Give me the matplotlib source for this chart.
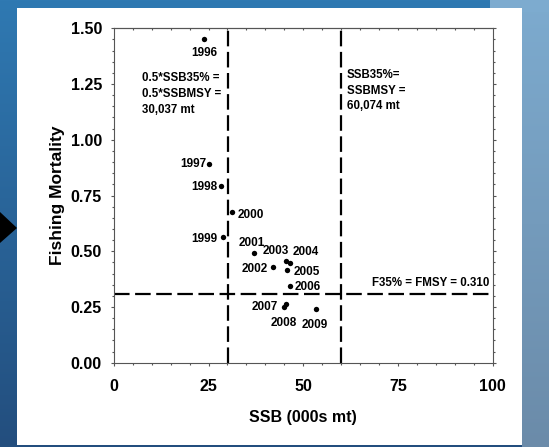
import numpy as np
import matplotlib
matplotlib.use("Agg")
import matplotlib.pyplot as plt
from matplotlib.patches import Rectangle, Polygon

plt.rcParams['font.family'] = ['Liberation Sans', 'DejaVu Sans']
plt.rcParams['font.weight'] = 'bold'

# data
years = [1996, 1997, 1998, 1999, 2000, 2001, 2002, 2003, 2004, 2005, 2006, 2007, 2008, 2009]
ssb = [23.9, 25.2, 28.4, 28.7, 31.3, 37.0, 42.0, 45.5, 46.6, 45.7, 46.4, 44.8, 45.5, 53.3]
fmort = [1.452, 0.890, 0.793, 0.564, 0.675, 0.494, 0.429, 0.456, 0.446, 0.416, 0.344, 0.249, 0.262, 0.242]

ssb_half = 30.037
ssb_msy = 60.074
f_msy = 0.310

x_ticks = [0, 25, 50, 75, 100]
y_ticks = [0.0, 0.25, 0.5, 0.75, 1.0, 1.25, 1.5]

# label placement for each year: (dx px, dy px, ha)
lab_pos = {
    1996: (0, -14, 'center'), 1997: (-3, 0, 'right'), 1998: (-4, -1, 'right'),
    1999: (-5, -2, 'right'), 2000: (5, -3, 'left'), 2001: (-2, 10, 'center'),
    2002: (-5, -2, 'right'), 2003: (-10, 10, 'center'), 2004: (15, 11, 'center'),
    2005: (7, -2, 'left'), 2006: (5, -1, 'left'), 2007: (-6, 0, 'right'),
    2008: (-2, -19, 'center'), 2009: (-1, -16, 'center'),
}

W, H = 549, 447
fig = plt.figure(figsize=(W / 100, H / 100), dpi=100)
fig.patch.set_facecolor('#2b6ea8')

# blue slide background
t = np.linspace(0, 1, H)[:, None]
top_c = np.array([0x2f, 0x79, 0xb2]) / 255
bot_c = np.array([0x23, 0x4e, 0x7e]) / 255
bg = np.ones((H, W, 3)) * (top_c * (1 - t) + bot_c * t).reshape(H, 1, 3)
lt_top = np.array([0x7d, 0xab, 0xcf]) / 255
lt_bot = np.array([0x6b, 0x8b, 0xa9]) / 255
light = (lt_top * (1 - t) + lt_bot * t).reshape(H, 1, 3)
bg[:, 522:, :] = light
bg[:12, 490:, :] = lt_top
fig.figimage(bg, xo=0, yo=0, zorder=-3, origin='upper')

fig.patches.append(Rectangle((17 / W, 1 - 445 / H), (522 - 17) / W, (445 - 8) / H,
                             transform=fig.transFigure, facecolor='white',
                             edgecolor='none', zorder=-2))
fig.patches.append(Polygon([(0, 1 - 212 / H), (17 / W, 1 - 228 / H), (0, 1 - 243 / H)],
                           closed=True, transform=fig.transFigure, facecolor='black',
                           edgecolor='none', zorder=-1))

ax = fig.add_axes([113.8 / W, 1 - 362.7 / H, (492.6 - 113.8) / W, (362.7 - 28.3) / H])
ax.set_facecolor('none')

ax.scatter(ssb, fmort, s=15, color='black', zorder=3, linewidths=0)
for yr, x, y in zip(years, ssb, fmort):
    dx, dy, ha = lab_pos[yr]
    ax.annotate(str(yr), (x, y), xytext=(dx, dy), textcoords='offset pixels',
                ha=ha, va='center', fontsize=8.5, fontweight='bold')

dash = dict(color='black', lw=1.6, linestyle=(0, (7, 2.5)))
ax.plot([ssb_half, ssb_half], [0, 1.5], **dash)
ax.plot([ssb_msy, ssb_msy], [0, 1.5], **dash)
ax.plot([0, 99], [f_msy, f_msy], **dash)

ax.text(7.35, 1.205, "0.5*SSB35% =\n0.5*SSBMSY =\n30,037 mt", ha='left', va='center',
        fontsize=8.3, fontweight='bold', linespacing=1.4)
ax.text(61.5, 1.22, "SSB35%=\nSSBMSY =\n60,074 mt", ha='left', va='center',
        fontsize=8.3, fontweight='bold', linespacing=1.4)
ax.text(99.1, 0.356, "F35% = FMSY = 0.310", ha='right', va='center',
        fontsize=8.3, fontweight='bold')

ax.set_xlim(0, 100)
ax.set_ylim(0, 1.5)
ax.set_xticks(x_ticks)
ax.set_xticklabels([str(v) for v in x_ticks])
ax.set_xticks(np.arange(0, 101, 5), minor=True)
ax.set_yticks(y_ticks)
ax.set_yticklabels(["%.2f" % v for v in y_ticks])
ax.set_yticks(np.arange(0, 1.501, 0.05), minor=True)

for sp in ax.spines.values():
    sp.set_color('#555555')
    sp.set_linewidth(0.8)
ax.tick_params(axis='both', which='both', direction='out', color='#555555', width=0.8,
               labelsize=11.5)
ax.tick_params(axis='y', which='both', right=True)
ax.tick_params(axis='y', which='major', length=2.5, pad=6)
ax.tick_params(axis='y', which='minor', length=1.5)
ax.tick_params(axis='x', which='major', length=2.5, pad=9.5)
ax.tick_params(axis='x', which='minor', length=1.7)

top = ax.secondary_xaxis('top')
top.set_xticks(np.arange(5, 100, 5))
top.tick_params(direction='in', length=1.7, color='#555555', width=0.8, labeltop=False)
top.spines['top'].set_color('#555555')
top.spines['top'].set_linewidth(0.8)

ax.set_xlabel("SSB (000s mt)", fontsize=11.5, fontweight='bold')
ax.xaxis.set_label_coords(0.5, -0.141)
ax.set_ylabel("Fishing Mortality", fontsize=12.5, fontweight='bold')
ax.yaxis.set_label_coords(-0.129, 0.5)

fig.savefig("out.png", dpi=100)
